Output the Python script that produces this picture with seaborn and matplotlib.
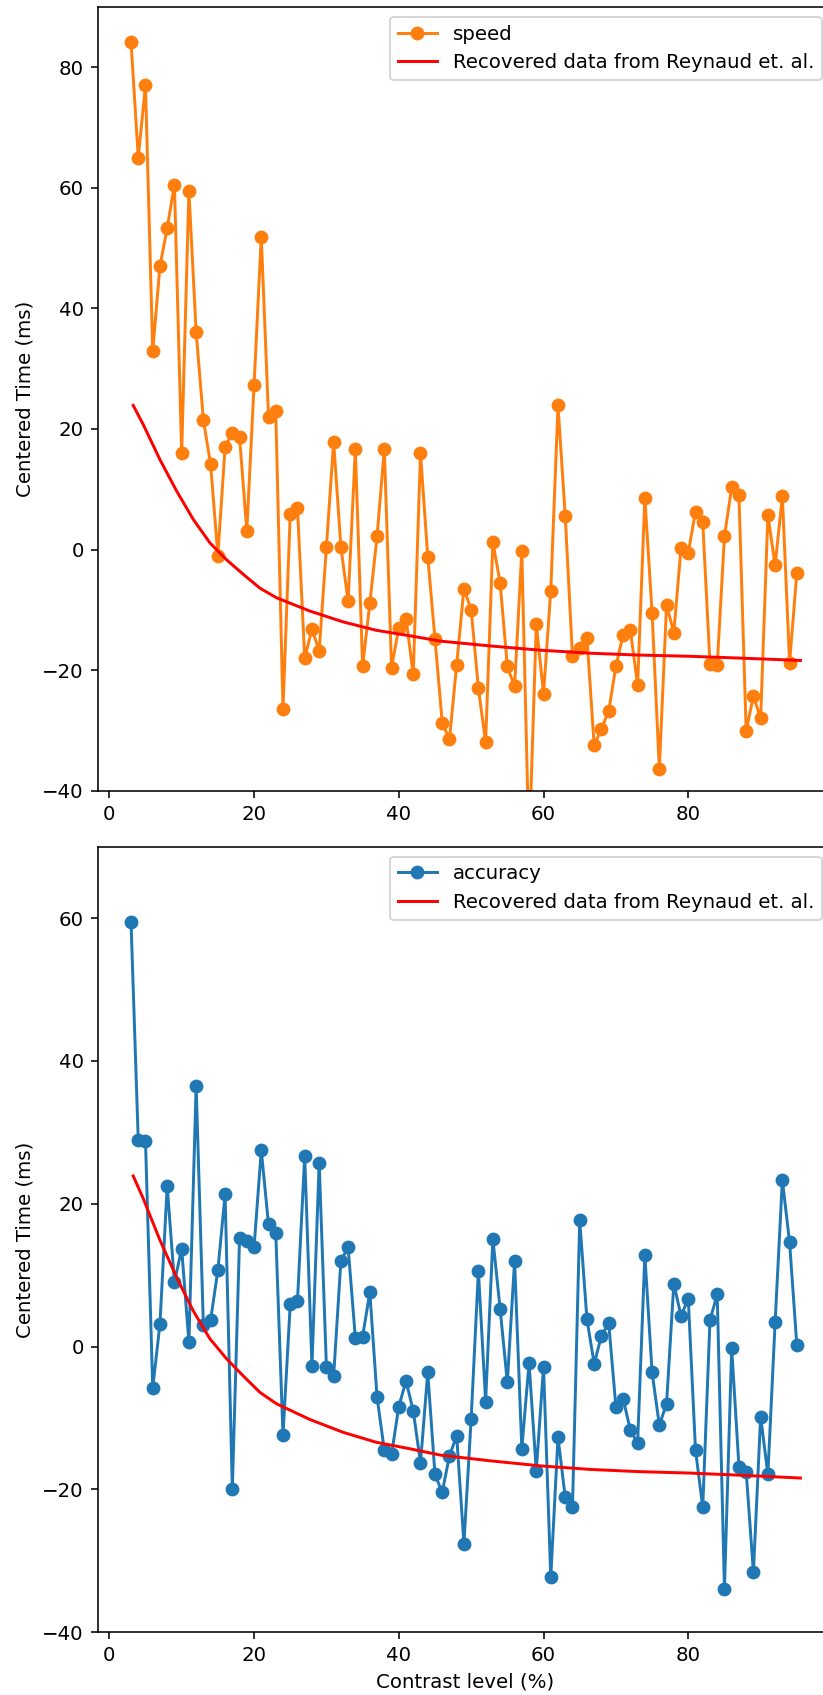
import numpy as np
import pandas as pd
import matplotlib
matplotlib.use("Agg")
import matplotlib.pyplot as plt
import seaborn as sns

# Contrast levels (%) tested
contrast = list(range(3, 96))

# Centered reaction time (ms) per contrast level, speed condition
speed = [84.2, 65.0, 77.0, 32.9, 47.0, 53.3, 60.5, 16.0, 59.5, 36.1,
         21.5, 14.1, -1.0, 17.0, 19.4, 18.6, 3.1, 27.2, 51.9, 22.0,
         22.9, -26.4, 5.9, 6.9, -18.0, -13.2, -16.8, 0.4, 17.9, 0.4,
         -8.6, 16.7, -19.4, -8.9, 2.2, 16.7, -19.6, -13.0, -11.5, -20.7,
         16.0, -1.2, -14.8, -28.7, -31.5, -19.1, -6.5, -10.0, -23.0, -32.0,
         1.2, -5.5, -19.4, -22.7, -0.3, -50.0, -12.4, -23.9, -6.8, 23.9,
         5.5, -17.7, -16.3, -14.6, -32.5, -29.7, -26.8, -19.4, -14.1, -13.4,
         -22.5, 8.6, -10.5, -36.4, -9.2, -13.8, 0.3, -0.5, 6.3, 4.5,
         -19.0, -19.2, 2.2, 10.3, 9.1, -30.1, -24.3, -28.0, 5.7, -2.6,
         8.8, -18.8, -3.9]

# Centered reaction time (ms) per contrast level, accuracy condition
accuracy = [59.5, 28.9, 28.8, -5.8, 3.2, 22.5, 9.0, 13.7, 0.6, 36.5,
            3.0, 3.7, 10.7, 21.3, -19.9, 15.2, 14.8, 13.9, 27.5, 17.1,
            15.9, -12.4, 5.9, 6.4, 26.7, -2.7, 25.7, -2.8, -4.1, 12.0,
            13.9, 1.2, 1.4, 7.6, -7.1, -14.5, -15.1, -8.4, -4.8, -9.0,
            -16.3, -3.6, -17.9, -20.4, -15.3, -12.5, -27.6, -10.1, 10.6, -7.7,
            15.1, 5.3, -5.0, 12.0, -14.3, -2.3, -17.4, -2.8, -32.3, -12.7,
            -21.1, -22.5, 17.7, 3.8, -2.4, 1.5, 3.3, -8.4, -7.3, -11.7,
            -13.5, 12.8, -3.6, -11.0, -8.0, 8.8, 4.3, 6.7, -14.5, -22.5,
            3.7, 7.3, -33.9, -0.2, -16.8, -17.5, -31.6, -9.8, -17.9, 3.4,
            23.3, 14.6, 0.2]

ref_x = [3.3, 4.7, 7.0, 9.3, 11.6, 13.9, 16.2, 18.5, 20.8, 23.1, 25.4, 27.7,
         32.3, 36.9, 41.5, 45.8, 52.7, 59.6, 66.5, 73.0, 80.0, 87.0, 95.5]
ref_y = [23.9, 20.7, 14.9, 9.7, 5.0, 1.1, -1.7, -4.1, -6.4, -8.0, -9.1, -10.2,
         -12.0, -13.4, -14.3, -15.2, -16.0, -16.7, -17.2, -17.5, -17.7, -18.0, -18.4]

ref_label = "Recovered data from Reynaud et. al."

DPI = 142
W, H = 823, 1695
fig = plt.figure(figsize=(W / DPI, H / DPI), dpi=DPI)

# Axes run slightly past the right edge of the canvas
left_px, right_px = 97.5, 832.0
ax_left = left_px / W
ax_width = (right_px - left_px) / W
ax_top = fig.add_axes([ax_left, 0.5335, ax_width, 0.4625])
ax_bot = fig.add_axes([ax_left, 0.0370, ax_width, 0.4635])

panels = [
    (ax_top, speed, "speed", "#ff7f0e", (-40, 90)),
    (ax_bot, accuracy, "accuracy", "#1f77b4", (-40, 70)),
]

for ax, values, name, color, ylim in panels:
    df = pd.DataFrame({"contrast": contrast, "time": values})
    sns.lineplot(data=df, x="contrast", y="time", ax=ax, color=color,
                 marker="o", markersize=6, markeredgecolor=color,
                 markeredgewidth=1.0, linewidth=1.5, label=name)
    sns.lineplot(x=ref_x, y=ref_y, ax=ax, color="red", linewidth=1.5,
                 label=ref_label)
    ax.set_xlim(-1.63, 99.86)
    ax.set_ylim(*ylim)
    ax.set_ylabel("Centered Time (ms)")
    ax.set_xlabel("")
    ax.legend(loc="upper right")

ax_bot.set_xlabel("Contrast level (%)")

fig.savefig("out.png", dpi=DPI)
